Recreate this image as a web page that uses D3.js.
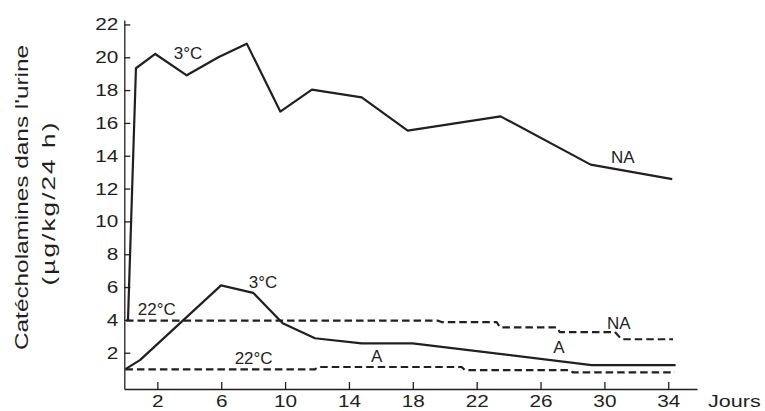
<!DOCTYPE html>
<html>
<head>
<meta charset="utf-8">
<script src="https://cdn.jsdelivr.net/npm/d3@7"></script>
<style>
body{margin:0;background:#fff;}
svg{display:block;font-family:'Liberation Sans',Arial,sans-serif;}
</style>
</head>
<body>
<script>
// values: [day, value]
var na3=[[0.16,3.95],[0.66,19.33],[1.87,20.2],[3.84,18.9],[5.82,20.0],[7.6,20.83],[9.7,16.69],[11.68,18.03],[14.8,17.56],[17.68,15.53],[23.5,16.4],[29.14,13.46],[34.25,12.58]];
var a3=[[0,1.0],[0.91,1.55],[5.99,6.1],[8.0,5.65],[9.85,3.79],[11.87,2.88],[14.8,2.57],[17.99,2.57],[29.2,1.25],[34.46,1.25]];
var na22=[[0.04,3.95],[19.59,3.95],[19.8,3.87],[23.25,3.87],[23.46,3.55],[27.0,3.55],[27.21,3.26],[30.66,3.26],[31.07,2.82],[34.3,2.82]];
var a22=[[0,0.99],[11.87,0.99],[12.08,1.13],[21.06,1.13],[21.26,0.94],[27.84,0.94],[28.03,0.8],[34.41,0.8]];
var xTicks=[2,6,10,14,18,22,26,30,34];
var yTicks=[2,4,6,8,10,12,14,16,18,20,22];
var labels=[
    {text:'3°C',x:3.92,y:19.9},
    {text:'NA',x:31.16,y:13.56},
    {text:'3°C',x:8.62,y:5.96},
    {text:'22°C',x:1.96,y:4.3},
    {text:'NA',x:30.9,y:3.42},
    {text:'22°C',x:8.03,y:1.29},
    {text:'A',x:15.74,y:1.43},
    {text:'A',x:27.15,y:1.96}
];

var ink='#231f20';
var width=765,height=411;

var svg=d3.select('body')
.append('svg')
.attr('width',width)
.attr('height',height);

var xScale=d3.scaleLinear()
.domain([-0.07,35.8])
.range([124.3,697]);

var yScale=d3.scaleLinear()
.domain([-0.21,22.27])
.range([389,20]);

// stretch text to the wide lettering of the original
function widen(sel,k){
    sel.each(function(){
        var w=this.getComputedTextLength();
        d3.select(this).attr('textLength',w*k).attr('lengthAdjust','spacingAndGlyphs');
    });
}

var xAxis=d3.axisBottom(xScale)
.tickValues(xTicks)
.tickSizeInner(-7)
.tickSizeOuter(0)
.tickPadding(6);

var yAxis=d3.axisLeft(yScale)
.tickValues(yTicks)
.tickSizeInner(-6)
.tickSizeOuter(0)
.tickPadding(6);

var gx=svg.append('g')
.attr('transform','translate(0,389)')
.call(xAxis);

var gy=svg.append('g')
.attr('transform','translate(124.3,0)')
.call(yAxis);

[gx,gy].forEach(function(g){
    g.selectAll('path,line').attr('stroke',ink).attr('stroke-width',1.3);
    g.selectAll('text').attr('fill',ink).style('font-size','17px');
    widen(g.selectAll('text'),1.22);
});

var line=d3.line()
.x(function(d){return xScale(d[0]);})
.y(function(d){return yScale(d[1]);});

var series=[
    {data:na3,dash:null},
    {data:a3,dash:null},
    {data:na22,dash:'7.5,4'},
    {data:a22,dash:'7.5,4'}
];

svg.selectAll('path.serie')
.data(series)
.enter()
.append('path')
.attr('class','serie')
.attr('d',function(d){return line(d.data);})
.attr('fill','none')
.attr('stroke',ink)
.attr('stroke-width',2.2)
.attr('stroke-linejoin','round')
.attr('stroke-dasharray',function(d){return d.dash;});

svg.selectAll('text.lab')
.data(labels)
.enter()
.append('text')
.attr('class','lab')
.attr('x',function(d){return xScale(d.x);})
.attr('y',function(d){return yScale(d.y);})
.attr('text-anchor','middle')
.attr('fill',ink)
.style('font-size','17px')
.text(function(d){return d.text;});

var jours=svg.append('text')
.attr('x',708)
.attr('y',407)
.attr('fill',ink)
.style('font-size','17px')
.text('Jours');
widen(jours,1.27);

var yTitle=svg.append('text')
.attr('transform','translate(28,197.5) rotate(-90)')
.attr('text-anchor','middle')
.attr('fill',ink)
.style('font-size','18px')
.attr('textLength',305)
.attr('lengthAdjust','spacingAndGlyphs')
.text("Catécholamines dans l'urine");

var yTitle2=svg.append('text')
.attr('transform','translate(55,203) rotate(-90)')
.attr('text-anchor','middle')
.attr('fill',ink)
.style('font-size','19px')
.style('letter-spacing','1.5px')
.attr('textLength',165)
.attr('lengthAdjust','spacingAndGlyphs')
.text('(µg/kg/24 h)');
</script>
</body>
</html>
